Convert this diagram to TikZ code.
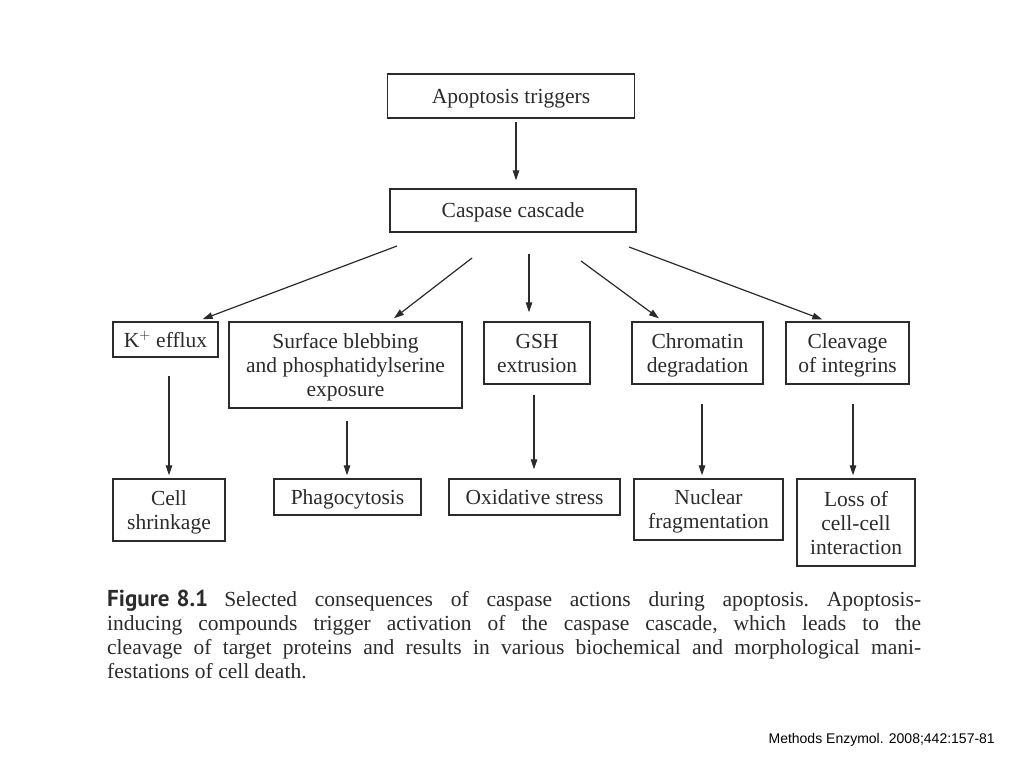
\documentclass[tikz,border=0pt]{standalone}
\usepackage{fontspec}
\setmainfont{Liberation Serif}
\newfontfamily\capsf{PT Sans}
\newfontfamily\srcfont{Liberation Sans}
\usetikzlibrary{arrows.meta}
\definecolor{ink}{HTML}{2B2B2B}
\begin{document}
\begin{tikzpicture}[x=1pt,y=-1pt,
  box/.style={draw=ink, line width=1.4pt, inner sep=0pt, align=center, text=ink,
    text depth=0pt, font=\fontsize{21.5}{24}\selectfont},
  arr/.style={draw=ink, line width=1.2pt, -{Triangle[length=10pt,width=6.5pt]}}]
\useasboundingbox[fill=white] (0,0) rectangle (1024,768);
% nodes
\node[box, minimum width=247, minimum height=44] (at) at (511,96) {Apoptosis triggers};
\node[box, minimum width=246, minimum height=43] (cc) at (513,210.5) {Caspase cascade};
\node[box, minimum width=105, minimum height=35] (k) at (165.5,339.5) {K$^{+}$ efflux};
\node[box, minimum width=233, minimum height=86] (sb) at (345.5,365) {Surface blebbing\\and phosphatidylserine\\exposure};
\node[box, minimum width=106, minimum height=62] (gsh) at (537,353) {GSH\\extrusion};
\node[box, minimum width=131, minimum height=62] (chr) at (697.5,353) {Chromatin\\degradation};
\node[box, minimum width=123, minimum height=62] (clv) at (847.5,353) {Cleavage\\of integrins};
\node[box, minimum width=112, minimum height=62] (cs) at (169,510) {Cell\\shrinkage};
\node[box, minimum width=147, minimum height=36] (ph) at (347.5,497) {Phagocytosis};
\node[box, minimum width=171, minimum height=36] (ox) at (534.5,497) {Oxidative stress};
\node[box, minimum width=149, minimum height=61] (nf) at (708.5,509.5) {Nuclear\\fragmentation};
\node[box, minimum width=118, minimum height=87] (lc) at (856,522.5) {Loss of\\cell-cell\\interaction};
% free starts of the fan arrows
\coordinate (s1) at (397,246);
\coordinate (s2) at (472,258);
\coordinate (s3) at (529,254);
\coordinate (s4) at (581,261);
\coordinate (s5) at (629,247);
% connectors
\draw[arr, shorten <=3pt, shorten >=8pt] ([xshift=5pt]at.south) -- ([xshift=3pt]cc.north);
\draw[arr, shorten >=6pt] (s1) -- ([xshift=31.5pt]k.north);
\draw[arr, shorten >=5pt] (s2) -- ([xshift=44.5pt]sb.north);
\draw[arr, shorten >=9pt] (s3) -- ([xshift=-8pt]gsh.north);
\draw[arr, shorten >=5pt] (s4) -- ([xshift=-34.5pt]chr.north);
\draw[arr, shorten >=5pt] (s5) -- ([xshift=-20.5pt]clv.north);
\draw[arr, shorten <=18pt, shorten >=3pt] ([xshift=3.5pt]k.south) -- (cs.north);
\draw[arr, shorten <=12pt, shorten >=3pt] ([xshift=1.5pt]sb.south) -- ([xshift=-0.5pt]ph.north);
\draw[arr, shorten <=10pt, shorten >=9pt] ([xshift=-3pt]gsh.south) -- ([xshift=-0.5pt]ox.north);
\draw[arr, shorten <=19pt, shorten >=3pt] ([xshift=4.5pt]chr.south) -- ([xshift=-6.5pt]nf.north);
\draw[arr, shorten <=19pt, shorten >=3pt] ([xshift=5.5pt]clv.south) -- ([xshift=-3pt]lc.north);
% caption
\node[anchor=base west, inner sep=0pt, text=ink] (cap) at (107,606) {\parbox[t]{814pt}{%
  \fontsize{21.5}{24}\selectfont\frenchspacing\hyphenpenalty=10000\emergencystretch=40pt
  \mbox{\capsf\bfseries\fontsize{23}{24}\selectfont Figure\hspace{7pt}8.1}\hspace{16pt}Selected consequences of caspase actions during apoptosis. Apoptosis-\linebreak
  inducing compounds trigger activation of the caspase cascade, which leads to the\linebreak
  cleavage of target proteins and results in various biochemical and morphological mani-\linebreak
  festations of cell death.}};
% source
\node[anchor=base east, inner sep=0pt, text=black, font=\srcfont\fontsize{14}{16}\selectfont] (src) at (995,743) {Methods Enzymol. 2008;442:157-81};
\end{tikzpicture}
\end{document}
